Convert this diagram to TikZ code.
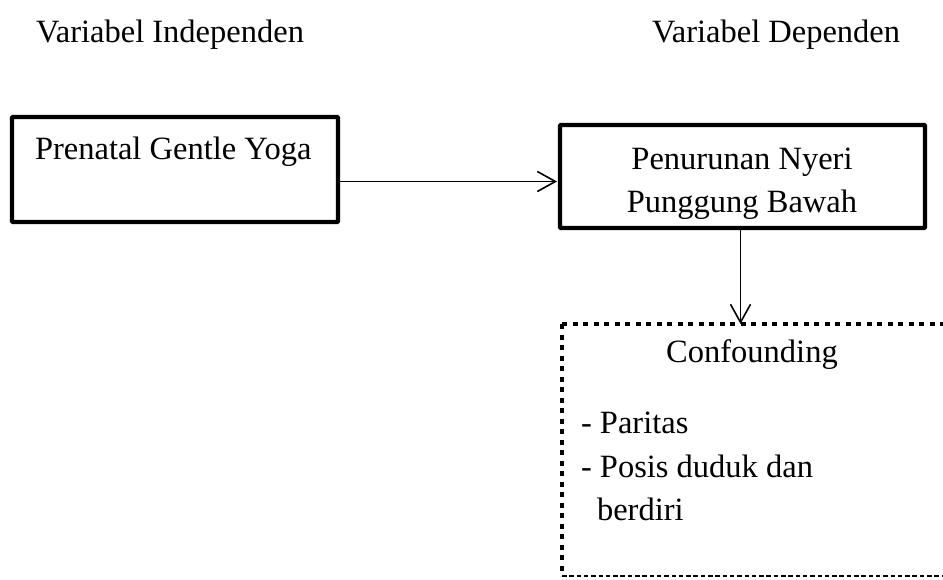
\documentclass[tikz,border=0pt]{standalone}
\usepackage{fontspec}
\setmainfont{Liberation Serif}
\usetikzlibrary{arrows.meta}
\begin{document}
\begin{tikzpicture}[x=1pt,y=-1pt,
  every node/.style={font=\fontsize{32.5}{43}\selectfont, inner sep=0pt, outer sep=0pt},
  txt/.style={anchor=base west},
  boxthick/.style={draw, line width=4.3pt, rounded corners=1pt},
  conn/.style={line width=1.4pt, -{Straight Barb[length=18pt,width=20pt,line width=1.6pt]}},
  dotline/.style={line width=4.5pt, dash pattern=on 5pt off 5.5pt},
  dashbottom/.style={line width=1.8pt, dash pattern=on 4.5pt off 2.8pt}]
\useasboundingbox (0,0) rectangle (943,580);
% headers
\node[txt] (h1) at (36,43) {Variabel Independen};
\node[txt] (h2) at (652,43) {Variabel Dependen};
% box 1
\node[boxthick, anchor=north west, minimum width=326pt, minimum height=105pt] (b1) at (12,117) {};
\node[txt] (t1) at (35,160) {Prenatal Gentle Yoga};
% box 2
\node[boxthick, anchor=north west, minimum width=365pt, minimum height=103pt] (b2) at (560,125) {};
\node[anchor=base] (t2a) at (742,170) {Penurunan Nyeri};
\node[anchor=base] (t2b) at (742,213) {Punggung Bawah};
% confounding region
\node[anchor=north west, minimum width=420pt, minimum height=252pt] (cf) at (562,324) {};
\draw[dotline] (cf.north west) -- (cf.north east);
\draw[dotline] (cf.north west) -- (cf.south west);
\draw[dashbottom] (cf.south west) -- (cf.south east);
\node[anchor=base] (c0) at (752,362) {Confounding};
\node[txt] (c1) at (581,433) {- Paritas};
\node[txt] (c2) at (581,477) {- Posis duduk dan};
\node[txt] (c3) at (597,520) {berdiri};
% connectors
\coordinate (a1s) at ([yshift=-12pt]b1.east);
\draw[conn] (a1s) -- ([xshift=-3pt]a1s -| b2.west);
\coordinate (a2s) at ([xshift=-2pt]b2.south);
\draw[conn] (a2s) -- (a2s |- cf.north);
\end{tikzpicture}
\end{document}
